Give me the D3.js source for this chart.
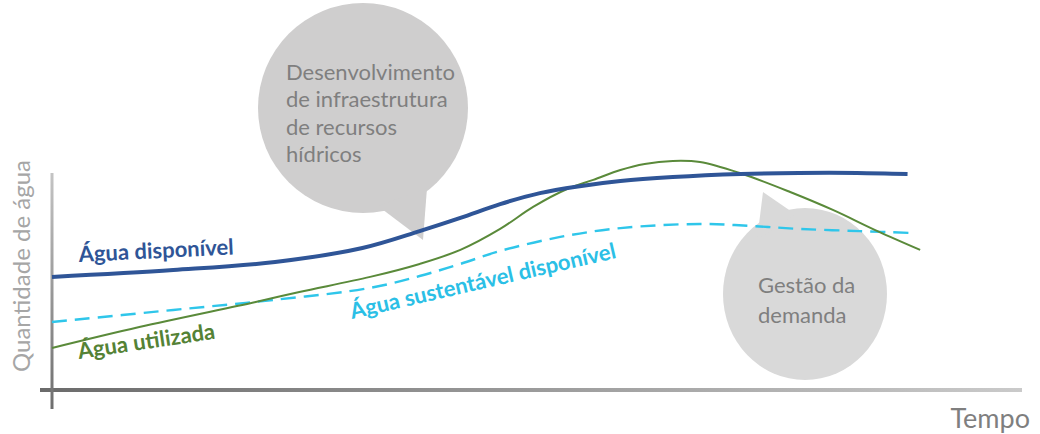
<!DOCTYPE html>
<html>
<head>
<meta charset="utf-8">
<script src="https://cdn.jsdelivr.net/npm/d3@7/dist/d3.min.js"></script>
<style>
  html, body { margin: 0; padding: 0; background: #ffffff; }
  svg { display: block; font-family: Lato, 'Open Sans', sans-serif; }
</style>
</head>
<body>
<div id="chart"></div>
<script>
// Série temporal esquemática: [tempo, quantidade]
var aguaDisponivel = [
  [0, 51.9], [12.5, 55.1], [23, 58.8], [32, 65.3], [37.9, 73.1], [42.1, 79.2],
  [46.2, 85.6], [50.3, 90.7], [54.4, 93.9], [58.6, 96.3], [64, 98.1],
  [71, 99.5], [77, 100], [83, 100], [88.2, 99.5]
];
var aguaUtilizada = [
  [0, 19.0], [9, 28.7], [21, 40.3], [25.5, 44.9], [32.8, 51.9], [37.9, 57.9],
  [42.1, 64.4], [46.2, 74.1], [49.6, 84.3], [53.1, 92.6], [55.8, 96.8],
  [58.6, 101.4], [61.1, 104.2], [64, 105.6], [66.8, 105.1], [70.9, 100],
  [76.1, 91.2], [80.5, 82.9], [85.1, 73.1], [89.5, 64.4]
];
var aguaSustentavel = [
  [0, 31.0], [12.5, 36.6], [22.8, 41.2], [32.8, 46.8], [37.9, 52.3],
  [42.1, 57.9], [46.2, 63.9], [52.4, 70.4], [58.6, 74.5], [66.8, 76.4],
  [72, 75.5], [77.1, 74.1], [83.3, 73.1], [88.8, 72.2]
];
var seriesNames = ['Água disponível', 'Água utilizada', 'Água sustentável disponível'];
var axisLabels = ['Tempo', 'Quantidade de água'];
var bubbleTexts = [
  ['Desenvolvimento', 'de infraestrutura', 'de recursos', 'hídricos'],
  ['Gestão da', 'demanda']
];

var W = 1040, H = 434;
var svg = d3.select('#chart').append('svg').attr('width', W).attr('height', H);

svg.append('defs').html(
  '<linearGradient id="gx" x1="0" y1="0" x2="1" y2="0">' +
    '<stop offset="0" stop-color="#6b6b6b"/><stop offset="1" stop-color="#cacaca"/>' +
  '</linearGradient>' +
  '<linearGradient id="gy" x1="0" y1="0" x2="0" y2="1">' +
    '<stop offset="0" stop-color="#c4c4c4"/><stop offset="1" stop-color="#6e6e6e"/>' +
  '</linearGradient>'
);

var x = d3.scaleLinear().domain([0, 100]).range([52, 1022]);
var y = d3.scaleLinear().domain([0, 100]).range([389, 173]);

// Balões (atrás das linhas)
var b1 = svg.append('g').attr('fill', '#cfcece');
b1.append('circle').attr('cx', 363).attr('cy', 108).attr('r', 105);
b1.append('path').attr('d', 'M378,206 L423,240 L427,188 Z');
bubbleTexts[0].forEach(function (t, i) {
  svg.append('text').attr('x', 286).attr('y', 80 + i * 27.3)
    .attr('font-size', 22).attr('fill', '#7f7f7f').text(t);
});

var b2 = svg.append('g').attr('fill', '#d9d9d9');
b2.append('ellipse').attr('cx', 805).attr('cy', 294).attr('rx', 82).attr('ry', 86);
b2.append('path').attr('d', 'M757,240 L763,192 L795,214 Z');
bubbleTexts[1].forEach(function (t, i) {
  svg.append('text').attr('x', 758).attr('y', 293 + i * 30)
    .attr('font-size', 22).attr('fill', '#7f7f7f').text(t);
});

// Eixos
svg.append('rect').attr('x', 40).attr('y', 388).attr('width', 982).attr('height', 4)
  .attr('fill', 'url(#gx)');
svg.append('rect').attr('x', 50.5).attr('y', 173).attr('width', 3).attr('height', 236)
  .attr('fill', 'url(#gy)');

svg.append('text').attr('x', 1030).attr('y', 428).attr('text-anchor', 'end')
  .attr('font-size', 27).attr('fill', '#7f7f7f').text(axisLabels[0]);
svg.append('text').attr('transform', 'translate(30,372) rotate(-90)')
  .attr('font-size', 24).attr('fill', '#a6a6a6').text(axisLabels[1]);

// Linhas
var line = d3.line().x(function (d) { return x(d[0]); }).y(function (d) { return y(d[1]); })
  .curve(d3.curveCatmullRom.alpha(0.5));

svg.append('path').datum(aguaSustentavel).attr('d', line)
  .attr('fill', 'none').attr('stroke', '#2fc6ea').attr('stroke-width', 2.4)
  .attr('stroke-dasharray', '15,8');
svg.append('path').datum(aguaUtilizada).attr('d', line)
  .attr('fill', 'none').attr('stroke', '#5a8a3a').attr('stroke-width', 2);
svg.append('path').datum(aguaDisponivel).attr('d', line)
  .attr('fill', 'none').attr('stroke', '#2f5597').attr('stroke-width', 4)
  .attr('stroke-linecap', 'butt');

// Rótulos das séries
var labels = [
  { t: seriesNames[0], x: 79, y: 262, r: -2.8, c: '#2f5597' },
  { t: seriesNames[1], x: 79, y: 359, r: -8.5, c: '#548235' },
  { t: seriesNames[2], x: 352, y: 319, r: -13, c: '#2bbfe6' }
];
labels.forEach(function (l) {
  svg.append('text').attr('transform', 'translate(' + l.x + ',' + l.y + ') rotate(' + l.r + ')')
    .attr('font-size', 22).attr('font-weight', 'bold').attr('fill', l.c).text(l.t);
});
</script>
</body>
</html>
